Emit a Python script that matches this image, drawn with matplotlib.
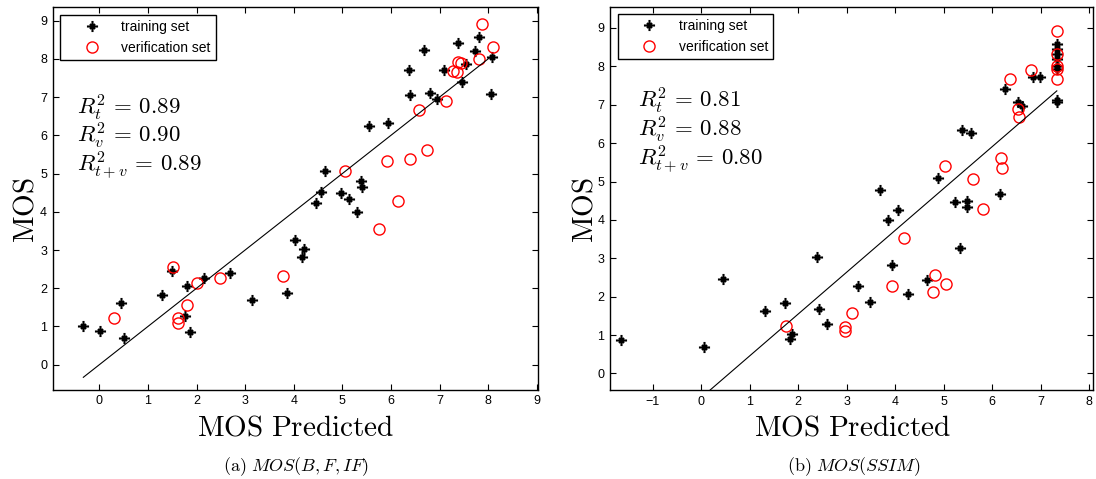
import numpy as np
import matplotlib
matplotlib.use("Agg")
import matplotlib.pyplot as plt
from matplotlib.path import Path

plt.rcParams['font.family'] = ['Liberation Sans', 'DejaVu Sans']
plt.rcParams['mathtext.fontset'] = 'cm'

# DATA  (a) MOS(B,F,IF)
a_train_x = [-0.33, 0.01, 0.44, 0.50, 1.29, 1.50, 1.81, 1.76, 1.86, 2.16, 2.69, 3.14,
             3.86, 4.02, 4.21, 4.17, 4.56, 4.45, 4.97, 5.14, 5.31, 5.38, 5.41, 4.64,
             5.55, 5.94, 6.37, 6.40, 6.68, 6.81, 6.94, 7.10, 7.37, 7.55, 7.47, 7.73,
             7.81, 8.08, 8.06]
a_train_y = [1.00, 0.89, 1.62, 0.69, 1.82, 2.45, 2.06, 1.28, 0.86, 2.27, 2.41, 1.69,
             1.88, 3.26, 3.03, 2.83, 4.51, 4.24, 4.49, 4.33, 4.00, 4.80, 4.66, 5.06,
             6.25, 6.31, 7.71, 7.05, 8.24, 7.11, 6.96, 7.71, 8.41, 7.86, 7.40, 8.20,
             8.57, 8.05, 7.07]
a_ver_x = [0.30, 1.52, 2.00, 1.81, 1.62, 1.62, 2.49, 3.77, 5.75, 6.14, 5.05, 5.92,
           6.40, 6.74, 6.58, 7.13, 7.27, 7.35, 7.39, 7.44, 7.81, 7.87, 8.10]
a_ver_y = [1.22, 2.55, 2.13, 1.56, 1.23, 1.10, 2.27, 2.32, 3.54, 4.27, 5.06, 5.32,
           5.38, 5.62, 6.67, 6.90, 7.68, 7.66, 7.92, 7.89, 8.00, 8.91, 8.30]
a_fit = (1.00, 0.00)          # slope, intercept
a_r2 = [0.89, 0.90, 0.89]

# DATA  (b) MOS(SSIM)
b_train_x = [-1.65, 0.06, 0.44, 1.31, 1.72, 1.87, 1.84, 2.39, 2.42, 2.60, 3.24, 3.48,
             3.93, 4.27, 4.65, 5.33, 3.85, 4.06, 3.68, 4.88, 5.23, 5.48, 5.48, 6.16,
             5.38, 5.56, 6.27, 6.53, 6.61, 6.84, 6.99, 7.33, 7.33, 7.33, 7.33, 7.33,
             7.33, 7.33, 7.33]
b_train_y = [0.87, 0.68, 2.46, 1.63, 1.84, 1.02, 0.89, 3.04, 1.69, 1.29, 2.28, 1.87,
             2.83, 2.07, 2.43, 3.27, 4.00, 4.26, 4.78, 5.08, 4.46, 4.50, 4.33, 4.68,
             6.34, 6.27, 7.42, 7.08, 6.97, 7.73, 7.73, 8.58, 8.45, 8.32, 8.18, 8.01,
             7.94, 7.13, 7.08]
b_ver_x = [1.75, 2.97, 2.97, 3.11, 3.93, 4.17, 4.82, 4.77, 5.05, 5.80, 5.61, 5.02,
           6.18, 6.20, 6.53, 6.55, 6.36, 6.80, 7.33, 7.33, 7.33, 7.33, 7.33]
b_ver_y = [1.23, 1.22, 1.10, 1.58, 2.28, 3.53, 2.56, 2.13, 2.34, 4.28, 5.07, 5.41,
           5.61, 5.35, 6.88, 6.68, 7.67, 7.91, 8.93, 8.32, 8.01, 7.94, 7.67]
b_fit = (1.09, -0.63)
b_r2 = [0.81, 0.88, 0.80]

r2_names = [r'R^2_t', r'R^2_v', r'R^2_{t+v}']

# matlab-like '*' marker: long plus arms, short diagonals
d = 0.45
star_verts = [(-1, 0), (1, 0), (0, -1), (0, 1), (-d, -d), (d, d), (-d, d), (d, -d)]
star_codes = [Path.MOVETO, Path.LINETO] * 4
star = Path(star_verts, star_codes)

fig = plt.figure(figsize=(10.96, 4.79), dpi=100)
fig.patch.set_facecolor('white')

panels = [
    dict(pos=[0.0481, 0.1868, 0.4425, 0.798], tx=a_train_x, ty=a_train_y, vx=a_ver_x, vy=a_ver_y,
         fit=a_fit, r2=a_r2, xlim=(-0.96, 9.02), ylim=(-0.65, 9.35), xticks=range(0, 10),
         yticks=range(0, 10), rx=0.050, rys=[0.718, 0.645, 0.569],
         cap=r'$\mathrm{(a)}\ MOS(B,F,IF)$', capx=296, ylx=25, xlx=296),
    dict(pos=[0.5566, 0.1858, 0.4404, 0.800], tx=b_train_x, ty=b_train_y, vx=b_ver_x, vy=b_ver_y,
         fit=b_fit, r2=b_r2, xlim=(-1.88, 8.07), ylim=(-0.43, 9.55), xticks=range(-1, 9),
         yticks=range(0, 10), rx=0.058, rys=[0.736, 0.661, 0.585],
         cap=r'$\mathrm{(b)}\ MOS(SSIM)$', capx=854, ylx=585, xlx=853),
]

for p in panels:
    ax = fig.add_axes(p['pos'])
    ax.plot(p['tx'], p['ty'], linestyle='none', marker=star, markersize=8,
            markeredgewidth=1.5, color='black', label='training set')
    ax.plot(p['vx'], p['vy'], linestyle='none', marker='o', markersize=8,
            markerfacecolor='none', markeredgecolor='red', markeredgewidth=1.0,
            label='verification set')
    allx = np.array(p['tx'] + p['vx'])
    xs = np.array([allx.min(), allx.max()])
    ax.plot(xs, p['fit'][0] * xs + p['fit'][1], color='black', linewidth=0.8)

    ax.set_xlim(*p['xlim'])
    ax.set_ylim(*p['ylim'])
    ax.set_xticks(list(p['xticks']))
    ax.set_yticks(list(p['yticks']))
    ax.tick_params(direction='in', length=4, width=0.8, top=True, right=True,
                   labelsize=9, pad=4)
    for s in ax.spines.values():
        s.set_linewidth(1.0)

    leg = ax.legend(loc='upper left', bbox_to_anchor=(0.0, 1.0), fancybox=False,
                    framealpha=1, edgecolor='black', fontsize=10, handlelength=3.8,
                    borderpad=0.35, labelspacing=0.5, handletextpad=0.25,
                    borderaxespad=0.55)
    leg.get_frame().set_linewidth(1.0)

    for name, val, yy in zip(r2_names, p['r2'], p['rys']):
        ax.text(p['rx'], yy, r'$%s\,=\,%.2f$' % (name, val), transform=ax.transAxes,
                fontsize=16.5, va='baseline', ha='left')

    fig.text(p['ylx'] / 1096, 1 - 210 / 479, r'$\mathrm{MOS}$', rotation=90,
             fontsize=21, ha='center', va='center')
    fig.text(p['xlx'] / 1096, 1 - 428 / 479, r'$\mathrm{MOS\ Predicted}$',
             fontsize=21, ha='center', va='center')
    fig.text(p['capx'] / 1096, 1 - 467 / 479, p['cap'], fontsize=13,
             ha='center', va='center')

fig.savefig('out.png', dpi=100)
